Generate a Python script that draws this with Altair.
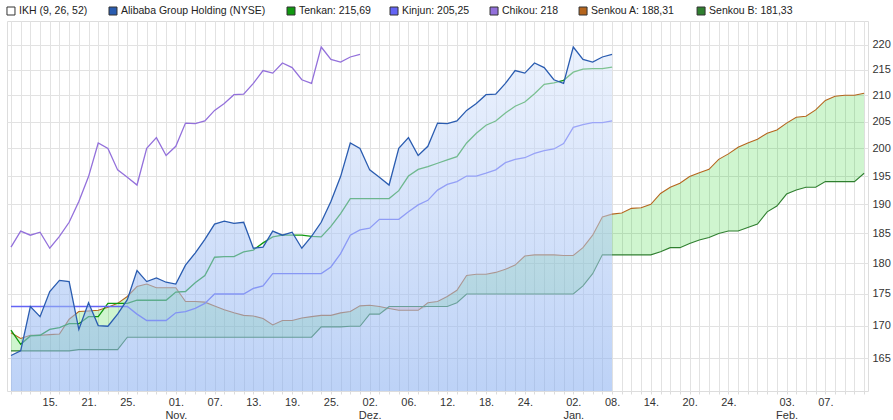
import json
import altair as alt
import pandas as pd

# ---- data (trading-day index 0 = 09 Oct 2019) ----
price = [165.4, 166.1, 173.0, 171.4, 175.4, 177.2, 177.0, 169.4, 173.6, 170.0,
         169.9, 171.8, 174.1, 178.8, 177.0, 177.6, 176.9, 176.6, 179.7, 181.7,
         184.0, 186.6, 187.1, 186.7, 186.9, 182.5, 182.7, 185.4, 184.7, 185.2,
         182.5, 184.5, 186.9, 190.5, 194.9, 201.0, 200.0, 196.1, 194.8, 193.4,
         200.0, 202.0, 198.7, 200.4, 204.7, 204.6, 205.1, 207.1, 208.4, 210.1,
         210.2, 212.3, 214.8, 214.3, 216.3, 215.4, 213.0, 212.3, 219.5, 217.0,
         216.5, 217.5, 218.0]

tenkan = [169.3, 167.1, 168.4, 168.5, 169.4, 169.7, 170.3, 170.3, 171.4, 171.4,
          173.5, 173.5, 173.5, 174.0, 174.0, 174.0, 174.0, 175.3, 175.4, 176.8,
          178.0, 181.0, 181.1, 181.1, 181.9, 182.2, 183.4, 184.4, 184.7, 184.7,
          184.7, 184.5, 184.4, 186.2, 188.4, 191.0, 191.0, 191.0, 191.0, 191.0,
          192.4, 195.0, 196.2, 196.7, 197.3, 197.9, 198.5, 201.0, 202.8, 204.3,
          205.1, 206.6, 207.9, 208.7, 210.3, 212.1, 212.4, 212.9, 214.5, 215.1,
          215.2, 215.2, 215.5]

kijun = [173.0, 173.0, 173.0, 173.0, 173.0, 173.0, 173.0, 173.0, 173.0, 173.0,
         173.0, 173.0, 173.0, 171.8, 170.8, 170.8, 170.8, 172.0, 172.2, 172.7,
         173.5, 175.0, 175.0, 175.0, 175.0, 175.9, 176.3, 178.3, 178.3, 178.3,
         178.3, 178.3, 178.3, 179.4, 181.6, 184.7, 185.6, 185.9, 187.4, 187.4,
         187.4, 188.7, 189.9, 190.7, 192.5, 193.5, 194.0, 195.0, 195.0, 195.5,
         196.1, 197.4, 198.0, 198.3, 199.1, 199.6, 199.9, 200.9, 203.9, 204.4,
         204.8, 204.8, 205.1]

senkou_a = [168.9, 168.0, 168.5, 168.5, 168.6, 168.7, 171.0, 172.2, 172.3, 172.4,
            172.9, 173.5, 174.6, 176.2, 176.6, 176.0, 176.0, 176.0, 173.8, 173.8,
            173.7, 173.1, 172.5, 172.0, 171.6, 171.5, 171.1, 170.1, 170.8, 170.8,
            171.2, 171.4, 171.6, 171.6, 172.0, 172.2, 173.1, 173.2, 173.0, 172.7,
            172.4, 172.4, 172.4, 173.6, 173.8, 174.6, 175.6, 178.0, 178.2, 178.2,
            178.5, 179.0, 179.7, 181.2, 181.4, 181.4, 181.4, 181.3, 181.3, 182.6,
            184.7, 187.8, 188.3, 188.5, 189.3, 189.4, 190.0, 191.9, 193.0, 193.7,
            194.9, 195.6, 196.2, 198.0, 199.0, 200.2, 201.0, 201.7, 202.8, 203.4,
            204.7, 205.8, 206.0, 207.2, 209.0, 209.8, 210.0, 210.0, 210.4]

senkou_b = [166.1, 166.1, 166.1, 166.1, 166.1, 166.1, 166.1, 166.3, 166.3, 166.3,
            166.3, 166.3, 168.2, 168.2, 168.2, 168.2, 168.2, 168.2, 168.2, 168.2,
            168.2, 168.2, 168.2, 168.2, 168.2, 168.2, 168.2, 168.2, 168.2, 168.2,
            168.2, 168.2, 169.8, 169.8, 169.8, 169.9, 169.9, 171.8, 171.8, 173.0,
            173.0, 173.0, 173.0, 173.0, 173.0, 173.0, 173.6, 175.0, 175.0, 175.0,
            175.0, 175.0, 175.0, 175.0, 175.0, 175.0, 175.0, 175.0, 175.0, 176.3,
            178.3, 181.4, 181.4, 181.4, 181.4, 181.4, 181.4, 181.9, 182.6, 182.6,
            183.3, 183.9, 184.3, 185.0, 185.4, 185.4, 186.0, 186.6, 188.7, 189.7,
            191.8, 192.5, 193.0, 193.0, 194.0, 194.0, 194.0, 194.0, 195.5]

chikou = price[26:]   # Chikou = close plotted 26 periods back

tick_idx = [4, 8, 12, 17, 21, 25, 29, 33, 37, 41, 45, 49, 53, 58, 62, 66, 70, 74, 80, 84]
tick_txt = ["15.", "21.", "25.", "01.|Nov.", "07.", "13.", "19.", "25.", "02.|Dez.",
            "06.", "12.", "18.", "24.", "02.|Jan.", "08.", "14.", "20.", "24.",
            "03.|Feb.", "07."]

y_ticks = [165, 170, 175, 180, 185, 190, 195, 200, 205, 210, 215, 220]

labels = ["IKH (9, 26, 52)", "Alibaba Group Holding (NYSE)", "Tenkan: 215,69",
          "Kinjun: 205,25", "Chikou: 218", "Senkou A: 188,31", "Senkou B: 181,33"]
colors = ["#ffffff", "#2a5cb0", "#109910", "#6464f5", "#9370db", "#b5651d", "#2f7f2f"]
# legend entry positions (page pixels, left edge of each swatch)
legend_left = [7, 109, 287, 390, 490, 579, 697]

# ---- tables ----
n_all = len(senkou_a)
cloud = pd.DataFrame({"i": list(range(n_all)), "a": senkou_a, "b": senkou_b})
price_df = pd.DataFrame({"i": list(range(len(price))), "v": price,
                         "s": labels[1]})
legend_df = pd.DataFrame({"lab": labels, "px": legend_left})

rows = []
for name, vals, w in [(labels[5], senkou_a, 1.1), (labels[6], senkou_b, 1.1),
                      (labels[2], tenkan, 1.3), (labels[3], kijun, 1.3),
                      (labels[4], chikou, 1.3)]:
    for k, v in enumerate(vals):
        rows.append({"i": k, "v": v, "s": name, "w": w})
lines_df = pd.DataFrame(rows)

# ---- scales / axes ----
W, H = 861, 370
X0, DX = 11.0, 601.0 / 62.0          # page x of index 0, pixels per trading day
xscale = alt.Scale(domain=[-0.41, 88.4], nice=False, zero=False)
yscale = alt.Scale(type="log", domain=[160.1, 224.8], nice=False, zero=False)

idx_js = json.dumps(tick_idx)
txt_js = json.dumps(tick_txt)
label_expr = (f"indexof({idx_js}, datum.value) >= 0 ? "
              f"split({txt_js}[indexof({idx_js}, datum.value)], '|') : ''")

xaxis = alt.Axis(values=list(range(n_all)), labelExpr=label_expr, title=None,
                 grid=True, gridColor="#e2e2e2", domain=False, ticks=True,
                 tickColor="#dcdcdc", tickSize=3, labelOverlap=False,
                 labelFlush=False, labelBound=False,
                 labelFontSize=11, labelColor="#333333", labelPadding=2,
                 labelLineHeight=13, labelFont="Liberation Sans")
yaxis = alt.Axis(orient="right", values=y_ticks, title=None, grid=True,
                 gridColor="#e2e2e2", ticks=False, domain=False,
                 labelOverlap=False,
                 labelFontSize=11, labelColor="#333333", labelPadding=4,
                 labelFont="Liberation Sans")

cscale = alt.Scale(domain=labels, range=colors)
X = alt.X("i:Q", scale=xscale, axis=xaxis)

# ---- layers ----
green_cloud = alt.Chart(cloud).transform_calculate(
    lo="min(datum.a, datum.b)"
).mark_area(color="#00c800", opacity=0.19).encode(
    x=X,
    y=alt.Y("a:Q", scale=yscale, axis=yaxis),
    y2="lo:Q",
)
red_cloud = alt.Chart(cloud).transform_calculate(
    lo="min(datum.a, datum.b)"
).mark_area(color="#ff3030", opacity=0.19).encode(
    x=X,
    y=alt.Y("b:Q", scale=yscale, axis=yaxis),
    y2="lo:Q",
)

ind_lines = alt.Chart(lines_df).mark_line().encode(
    x=X,
    y=alt.Y("v:Q", scale=yscale, axis=yaxis),
    color=alt.Color("s:N", scale=cscale, legend=None),
    strokeWidth=alt.StrokeWidth("w:Q", scale=None, legend=None),
    detail="s:N",
)

price_area = alt.Chart(price_df).mark_area(
    fill=alt.Gradient(gradient="linear", x1=0, y1=0, x2=0, y2=1,
                      stops=[alt.GradientStop(offset=0, color="#dde8fc"),
                             alt.GradientStop(offset=1, color="#86adf0")]),
    fillOpacity=0.55,
).encode(
    x=X,
    y=alt.Y("v:Q", scale=yscale, axis=yaxis),
    y2=alt.datum(160.1),
)

price_line = alt.Chart(price_df).mark_line(strokeWidth=1.3).encode(
    x=X,
    y=alt.Y("v:Q", scale=yscale, axis=yaxis),
    color=alt.Color("s:N", scale=cscale, legend=None),
)

# legend row above the plot: swatches + labels
leg_base = alt.Chart(legend_df).transform_calculate(
    sx=f"(datum.px + 4 - {X0}) / {DX}",
    tx=f"(datum.px + 12 - {X0}) / {DX}",
)
leg_sw = leg_base.mark_square(size=64, filled=True, stroke="#333333",
                              strokeWidth=1, opacity=1).encode(
    x=alt.X("sx:Q", scale=xscale, axis=xaxis),
    y=alt.value(-10),
    fill=alt.Fill("lab:N", scale=alt.Scale(domain=labels, range=colors),
                  legend=None),
)
leg_tx = leg_base.mark_text(align="left", baseline="middle", fontSize=10.5,
                            font="Liberation Sans", color="#222222").encode(
    x=alt.X("tx:Q", scale=xscale, axis=xaxis),
    y=alt.value(-10),
    text="lab:N",
)

chart = alt.layer(
    green_cloud, red_cloud, ind_lines, price_area, price_line, leg_sw, leg_tx
).properties(
    width=W, height=H,
    autosize=alt.AutoSizeParams(type="none"),
    padding={"left": 7, "top": 21, "right": 25, "bottom": 29},
    background="white",
).configure_view(
    stroke="#cfcfcf", strokeWidth=1
).configure_axis(
    labelOverlap=False
).configure(font="Liberation Sans")

chart.save("out.html", embed_options={"renderer": "svg", "actions": False})
